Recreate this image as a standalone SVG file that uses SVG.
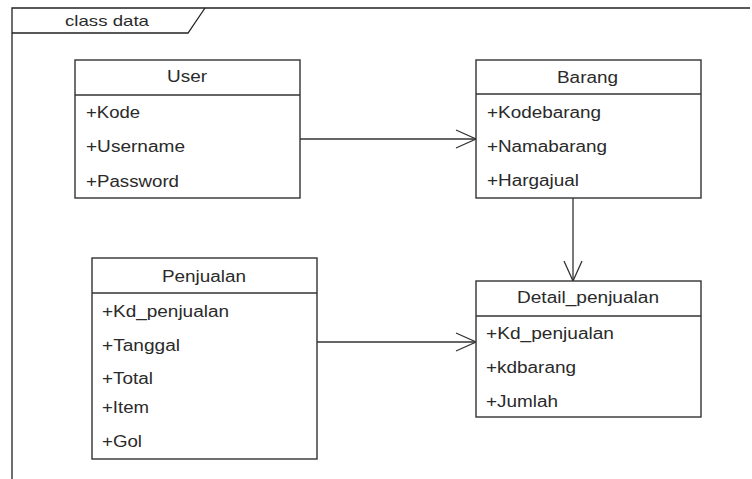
<svg xmlns="http://www.w3.org/2000/svg" width="752" height="479" viewBox="0 0 752 479">
<style>
.box{fill:#fff;stroke:#333;stroke-width:1.4}
.sep{stroke:#333;stroke-width:1.4}
.t{font-family:"Liberation Sans",Arial,sans-serif;font-size:16px;fill:#2a2a2a}
.c{text-anchor:middle}
.edge{stroke:#333;stroke-width:1.3;fill:none}
.frame{stroke:#222;stroke-width:1.3;fill:none}
</style>
<defs>
<marker id="open" markerUnits="userSpaceOnUse" markerWidth="22" markerHeight="22" viewBox="0 0 22 22" refX="21" refY="11" orient="auto">
<path d="M1,2 L21,11 L1,20" fill="none" stroke="#333" stroke-width="1.3"/>
</marker>
</defs>
<rect width="752" height="479" fill="#fff"/>
<g id="frame">
<path class="frame" d="M12,479 L12,8 L750,8"/>
<path class="frame" d="M12,33 L188,33 L205,8"/>
<text class="t" x="65" y="26" font-size="15" textLength="84" lengthAdjust="spacingAndGlyphs" style="font-size:15px">class data</text>
</g>
<g id="connectors">
<line class="edge" x1="300" y1="139" x2="476" y2="139" marker-end="url(#open)"/>
<line class="edge" x1="573" y1="198" x2="573" y2="281" marker-end="url(#open)"/>
<line class="edge" x1="317" y1="342" x2="476" y2="342" marker-end="url(#open)"/>
</g>
<g id="User">
<rect class="box" x="75" y="60" width="225" height="138"/>
<line class="sep" x1="75" y1="95" x2="300" y2="95"/>
<text class="t" x="167" y="82" textLength="40" lengthAdjust="spacingAndGlyphs">User</text>
<text class="t" x="86" y="118" textLength="54" lengthAdjust="spacingAndGlyphs">+Kode</text>
<text class="t" x="86" y="152" textLength="99" lengthAdjust="spacingAndGlyphs">+Username</text>
<text class="t" x="86" y="187" textLength="93" lengthAdjust="spacingAndGlyphs">+Password</text>
</g>
<g id="Barang">
<rect class="box" x="476" y="60" width="225" height="138"/>
<line class="sep" x1="476" y1="94" x2="701" y2="94"/>
<text class="t" x="557" y="83" textLength="61" lengthAdjust="spacingAndGlyphs">Barang</text>
<text class="t" x="487" y="118" textLength="114" lengthAdjust="spacingAndGlyphs">+Kodebarang</text>
<text class="t" x="487" y="152" textLength="120" lengthAdjust="spacingAndGlyphs">+Namabarang</text>
<text class="t" x="487" y="186" textLength="92" lengthAdjust="spacingAndGlyphs">+Hargajual</text>
</g>
<g id="Penjualan">
<rect class="box" x="92" y="258" width="225" height="201"/>
<line class="sep" x1="92" y1="293" x2="317" y2="293"/>
<text class="t" x="162" y="282" textLength="84" lengthAdjust="spacingAndGlyphs">Penjualan</text>
<text class="t" x="102" y="317" textLength="127" lengthAdjust="spacingAndGlyphs">+Kd_penjualan</text>
<text class="t" x="102" y="351" textLength="78" lengthAdjust="spacingAndGlyphs">+Tanggal</text>
<text class="t" x="102" y="384" textLength="51" lengthAdjust="spacingAndGlyphs">+Total</text>
<text class="t" x="102" y="413" textLength="47" lengthAdjust="spacingAndGlyphs">+Item</text>
<text class="t" x="102" y="447" textLength="40" lengthAdjust="spacingAndGlyphs">+Gol</text>
</g>
<g id="Detail_penjualan">
<rect class="box" x="476" y="281" width="225" height="136"/>
<line class="sep" x1="476" y1="316" x2="701" y2="316"/>
<text class="t" x="517" y="303" textLength="142" lengthAdjust="spacingAndGlyphs">Detail_penjualan</text>
<text class="t" x="486" y="339" textLength="128" lengthAdjust="spacingAndGlyphs">+Kd_penjualan</text>
<text class="t" x="486" y="373" textLength="90" lengthAdjust="spacingAndGlyphs">+kdbarang</text>
<text class="t" x="486" y="407" textLength="72" lengthAdjust="spacingAndGlyphs">+Jumlah</text>
</g>
</svg>
